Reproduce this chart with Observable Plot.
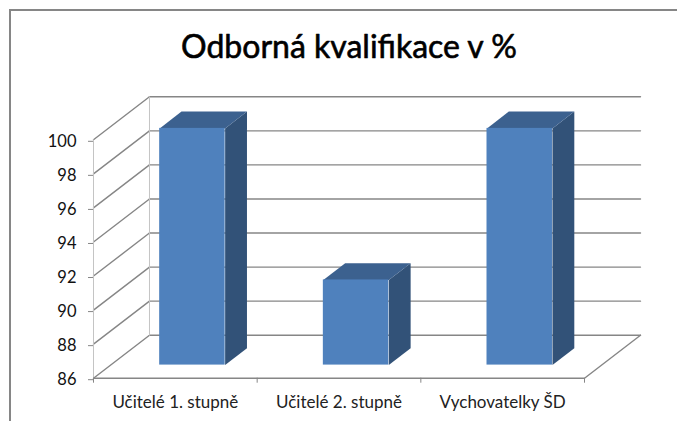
<!DOCTYPE html>
<html><head><meta charset="utf-8">
<script src="https://cdn.jsdelivr.net/npm/d3@7"></script>
<script src="https://cdn.jsdelivr.net/npm/@observablehq/plot@0.6"></script>
<style>html,body{margin:0;padding:0;background:#fff}svg{display:block}
#frame{position:absolute;left:9px;top:9px;width:668px;height:412px;box-sizing:border-box;border-top:2px solid #868686;border-left:2px solid #868686}
#chart{position:absolute;left:0;top:0}</style>
</head><body><div id="chart"></div><div id="frame"></div>
<script>
const categories = ["Učitelé 1. stupně", "Učitelé 2. stupně", "Vychovatelky ŠD"];
const values = [99.9, 91, 99.9];
const yTicks = [86, 88, 90, 92, 94, 96, 98, 100];
const title = "Odborná kvalifikace v %";

// oblique projection, in data units per unit of depth
const DX = 0.342, DY = 2.525;
const project = (cat, val, depth) => ({x: cat + depth * DX, y: val + depth * DY});
const barW = 0.4, d0 = 0.305, d1 = 0.695;

const poly = (id, pts) => pts.map(p => ({id, ...project(p[0], p[1], p[2])}));
const wallLines = yTicks.flatMap(v => [
  ...poly("s" + v, [[0, v, 0], [0, v, 1]]),
  ...poly("b" + v, [[0, v, 1], [3, v, 1]])
]);
const floorEdge = [...poly("fr", [[3, 86, 0], [3, 86, 1]])];
const wallEdge = poly("w", [[0, 86, 0], [0, 100, 0]]).concat(poly("wb", [[0, 86, 1], [0, 100, 1]]));

const fronts = categories.map((c, i) => {
  const a = project(i + 0.5 - barW / 2, 86, d0), b = project(i + 0.5 + barW / 2, values[i], d0);
  return {x1: a.x, x2: b.x, y1: a.y, y2: b.y};
});
const sides = categories.flatMap((c, i) => {
  const xr = i + 0.5 + barW / 2;
  return poly("side" + i, [[xr, 86, d0], [xr, 86, d1], [xr, values[i], d1], [xr, values[i], d0]]);
});
const tops = categories.flatMap((c, i) => {
  const xl = i + 0.5 - barW / 2, xr = i + 0.5 + barW / 2, v = values[i];
  return poly("top" + i, [[xl, v, d0], [xr, v, d0], [xr, v, d1], [xl, v, d1]]);
});

const gridColor = "#868686";
const plot = Plot.plot({
  width: 677, height: 421,
  marginLeft: 93, marginRight: 93, marginTop: 0, marginBottom: 43.3,
  style: {background: "#fff", fontFamily: "Lato, 'Open Sans', sans-serif"},
  x: {domain: [0, 3], range: [93, 584]},
  y: {domain: [86, 100], range: [377.7, 139.3]},
  marks: [
    Plot.line(wallLines, {x: "x", y: "y", z: "id", stroke: gridColor, strokeWidth: 1.4}),
    Plot.line(wallEdge, {x: "x", y: "y", z: "id", stroke: "#c4c4c4", strokeWidth: 1}),
    Plot.line(floorEdge, {x: "x", y: "y", z: "id", stroke: gridColor, strokeWidth: 1.4}),
    Plot.ruleY([86], {x1: 0, x2: 3, stroke: gridColor, strokeWidth: 1.6}),
    Plot.axisY({ticks: yTicks, anchor: "left", tickSize: 5, tickPadding: 12, dy: 1.5, label: null, fontSize: 16.5, color: "#111", stroke: gridColor}),
    Plot.axisX({ticks: [0, 1, 2, 3], anchor: "bottom", tickSize: 5, tickFormat: () => "", label: null, stroke: gridColor}),
    Plot.axisX({ticks: categories.map((c, i) => i + 0.5), tickFormat: (d) => categories[Math.floor(d)], anchor: "bottom", tickSize: 0, tickPadding: 18, label: null, fontSize: 17, color: "#222"}),
    Plot.line(sides, {x: "x", y: "y", z: "id", fill: "#325278", curve: "linear-closed", stroke: "none"}),
    Plot.line(tops, {x: "x", y: "y", z: "id", fill: "#3c618f", curve: "linear-closed", stroke: "none"}),
    Plot.rect(fronts, {x1: "x1", x2: "x2", y1: "y1", y2: "y2", fill: "#4f81bd"}),
    Plot.text([title], {frameAnchor: "top", dy: 35, fontSize: 32, fill: "#000", stroke: "#000", strokeWidth: 0.6, lineAnchor: "top", dx: 10})
  ]
});
document.getElementById("chart").append(plot);
</script></body></html>
